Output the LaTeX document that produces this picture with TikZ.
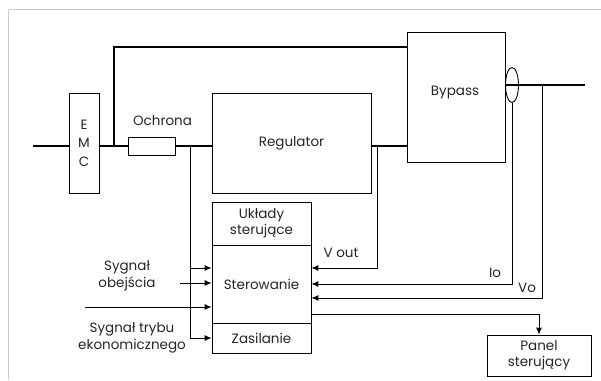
\documentclass[tikz,border=0pt]{standalone}
\usepackage{fontspec}
\setmainfont{Poppins}
\usetikzlibrary{arrows.meta,shapes.geometric,positioning}

\tikzset{
  blok/.style={draw, line width=0.8pt, fill=white, inner sep=0pt, align=center},
  power/.style={line width=2pt},
  wire/.style={line width=0.9pt},
  sig/.style={line width=0.9pt, -{Latex[length=7pt,width=6pt]}},
}

\begin{document}
\begin{tikzpicture}[x=1pt, y=-1pt, every node/.style={font=\fontsize{13.5}{16.5}\selectfont, text=black!85}]
  \useasboundingbox (0,0) rectangle (601,380);
  \draw[black!20, line width=1pt] (8,380) -- (8,9) -- (601,9);

  % glowny tor
  \coordinate (in) at (33,146);
  \coordinate (out) at (585,85);
  \node[blok, minimum width=30, minimum height=100] (emc) at (84,143) {E\\[2pt]M\\[2pt]C};
  \node[blok, minimum width=159, minimum height=100] (reg) at (291.5,143) {Regulator};
  \node[blok, minimum width=98, minimum height=130] (bypass) at (456,97) {};
  \node at (455,93) {Bypass};
  \coordinate (j1) at (114,146);
  \coordinate (j2) at (190,146);
  \coordinate (j3) at (377,146);
  \coordinate (j4) at (542,85);

  \draw[power] (in) -- (in -| emc.west);
  \draw[power] (emc.east |- in) -- (reg.west |- in);
  \draw[power] (j1) |- (bypass.west |- 0,47);
  \draw[power] (reg.east |- in) -- (bypass.west |- in);
  \draw[power] (bypass.east |- out) -- (out);

  \node[blok, minimum width=47, minimum height=18] (fuse) at (151.5,146) {};
  \node[above=7pt of fuse.north, xshift=11pt, anchor=south] {Ochrona};
  \node[draw, ellipse, line width=0.9pt, minimum width=13, minimum height=35, inner sep=0pt] (ct) at (512,85) {};

  % sterowanie
  \node[blok, minimum width=99, minimum height=43] (ukl) at (261.5,223.5) {Układy\\sterujące};
  \node[blok, minimum width=99, minimum height=78] (ster) at (261.5,284) {Sterowanie};
  \node[blok, minimum width=99, minimum height=30] (zas) at (261.5,338) {Zasilanie};
  \node[blok, minimum width=104, minimum height=41] (panel) at (539,355.5) {Panel\\sterujący};

  \draw[wire] (j2) -- (190,338);
  \draw[sig] (190,268) -- (ster.west |- 0,268);
  \draw[sig] (190,338) -- (zas.west |- 0,338);
  \draw[sig] (180,283) -- (ster.west |- 0,283);
  \draw[sig] (85,307) -- (ster.west |- 0,307);
  \node (obej) at (127,276) [align=center] {Sygnał\\obejścia};
  \node (tryb) at (132,338) [align=center] {Sygnał trybu\\ekonomicznego};

  % pomiary
  \draw[sig] (j3) |- (ster.east |- 0,268);
  \draw[sig] (ct.south) |- (ster.east |- 0,284);
  \draw[sig] (j4) |- (ster.east |- 0,298);
  \node at (341,253) {V out};
  \node at (495,273) {Io};
  \node at (527,288) {Vo};

  \draw[sig] (ster.east |- 0,314) -| (panel.north);
\end{tikzpicture}
\end{document}
